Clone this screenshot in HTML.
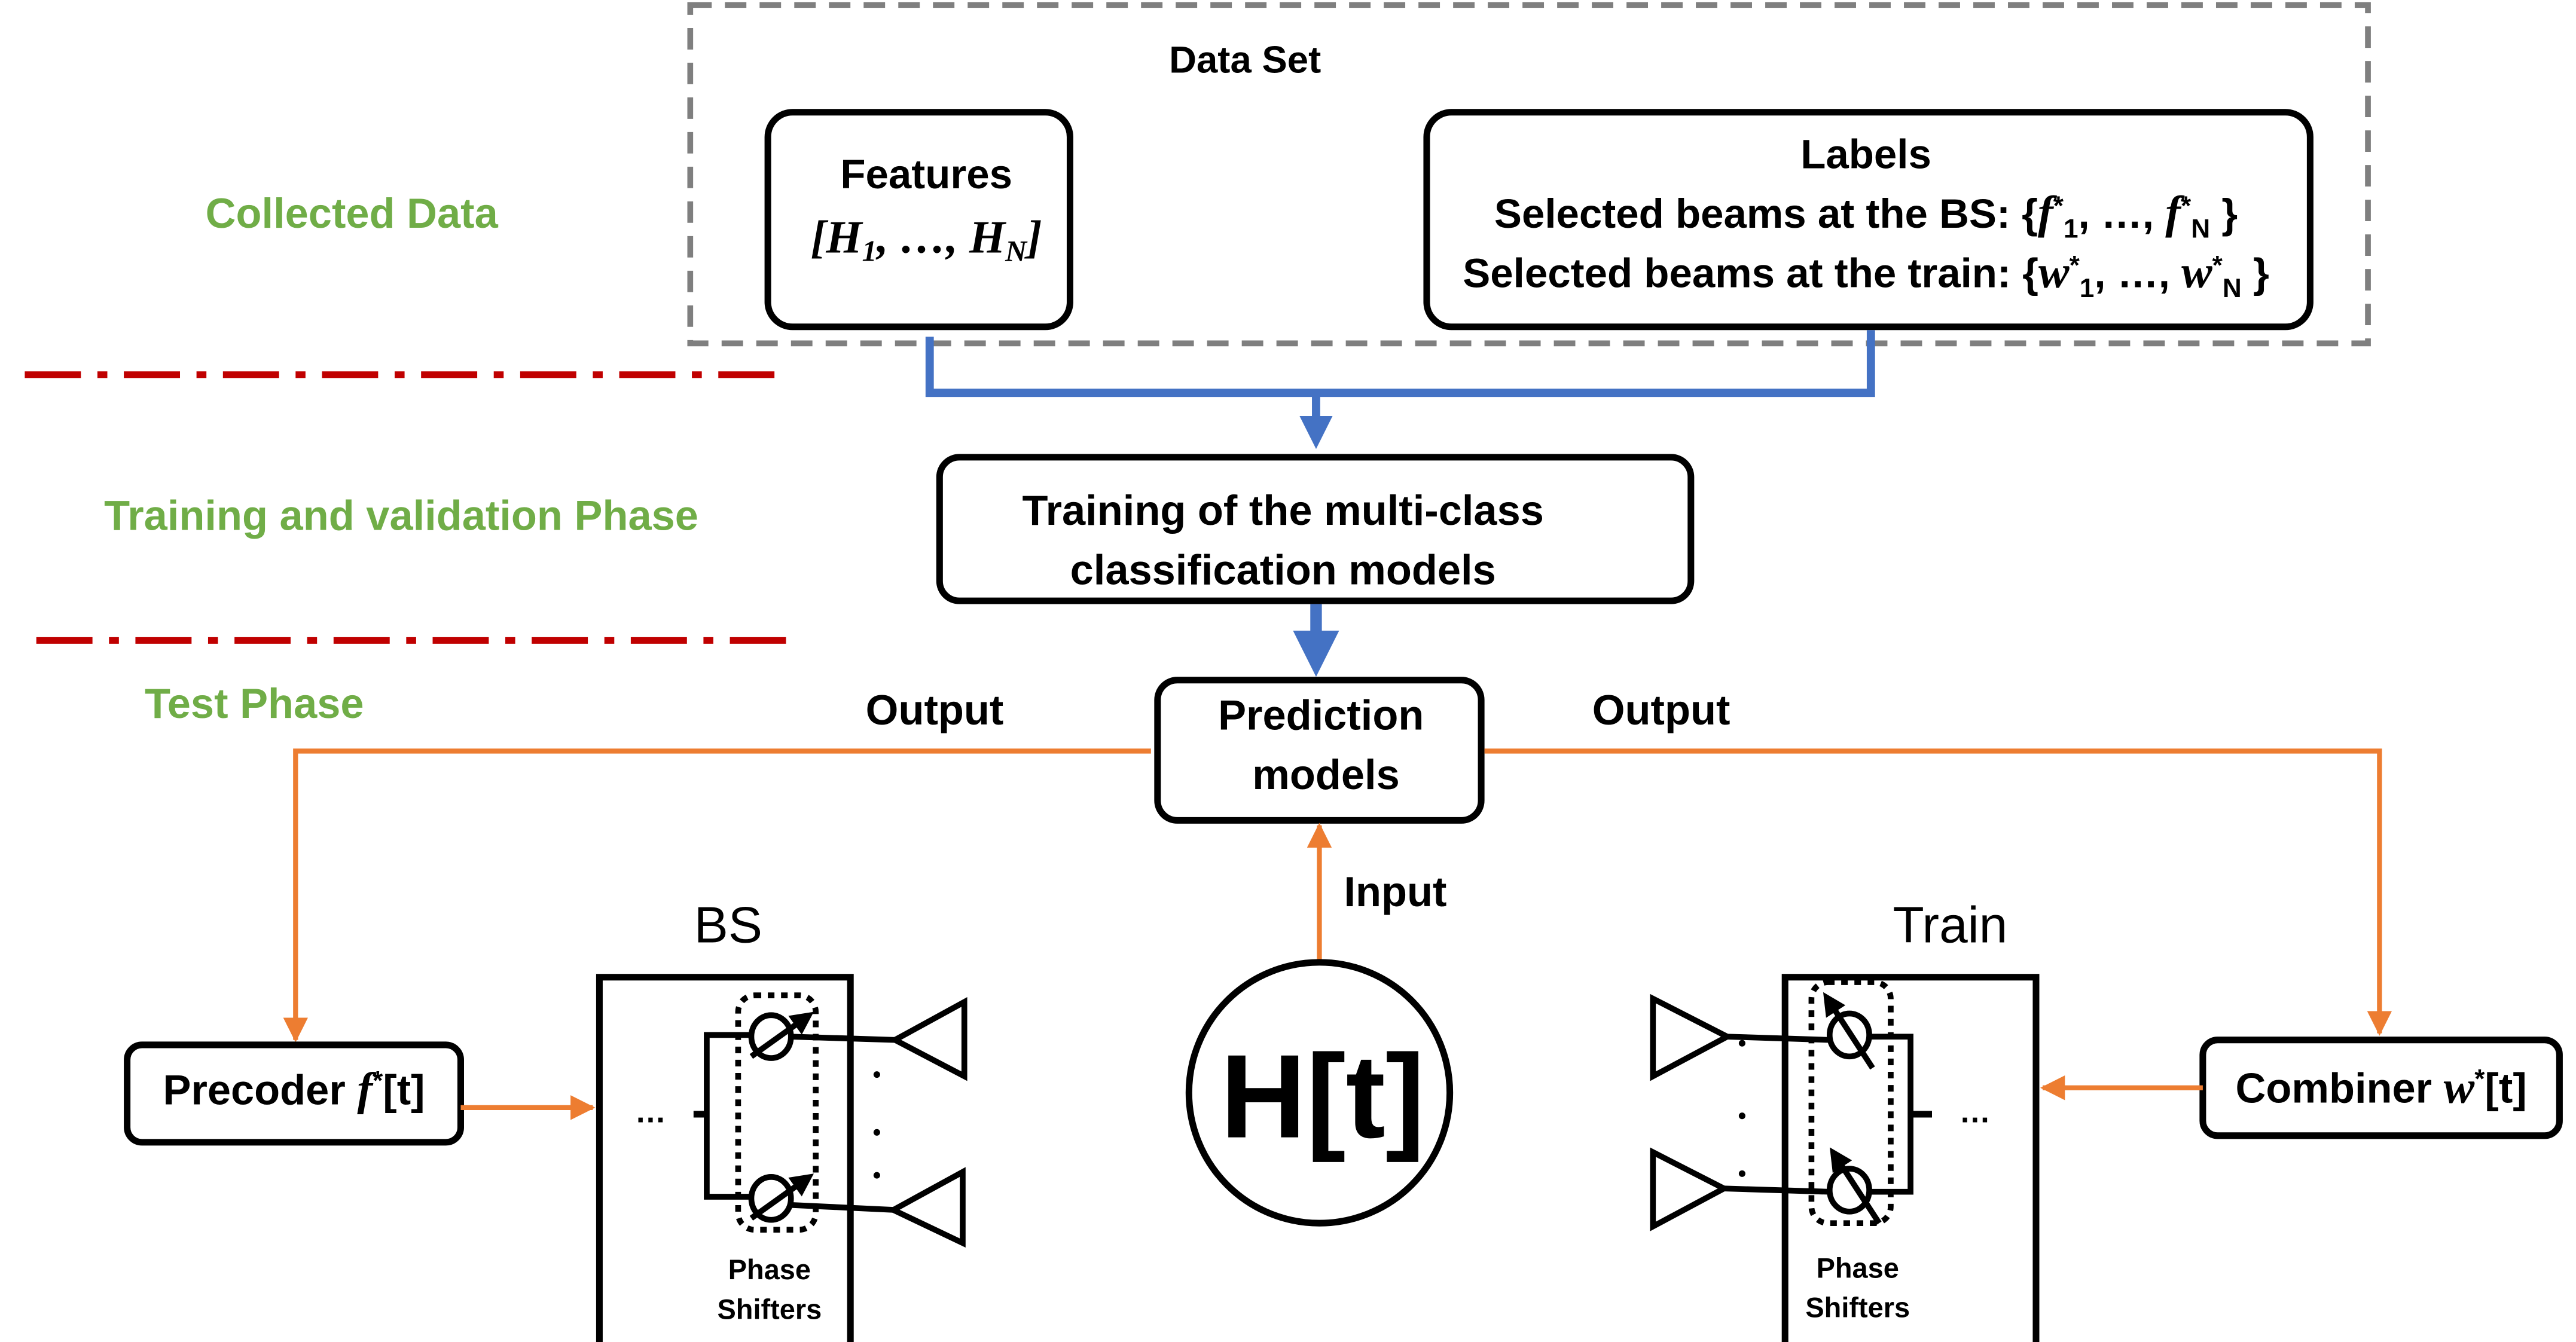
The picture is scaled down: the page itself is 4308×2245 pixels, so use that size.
<!DOCTYPE html>
<html><head><meta charset="utf-8"><style>
html,body{margin:0;padding:0;background:#fff;width:4308px;height:2245px;overflow:hidden}
svg{display:block}
text{font-family:"Liberation Sans",sans-serif;font-weight:bold}
.m{font-family:"Liberation Serif",serif;font-style:italic;font-weight:bold}
</style></head><body>
<svg width="4308" height="2245" viewBox="0 0 1560 813" preserveAspectRatio="none" xmlns="http://www.w3.org/2000/svg">
<defs>
<marker id="ab" markerWidth="4" markerHeight="4" refX="2" refY="2" orient="auto" markerUnits="strokeWidth"><path d="M0,0L4,2L0,4z" fill="#4472c4"/></marker>
<marker id="ao" markerWidth="5" markerHeight="5" refX="4.5" refY="2.5" orient="auto" markerUnits="strokeWidth"><path d="M0,0L5,2.5L0,5z" fill="#ed7d31"/></marker>
<marker id="ak" markerWidth="4" markerHeight="4" refX="3" refY="2" orient="auto" markerUnits="strokeWidth"><path d="M0,0L4,2L0,4z" fill="#000"/></marker>
</defs>
<rect x="418" y="3" width="1016" height="205" fill="none" stroke="#7f7f7f" stroke-width="3.5" stroke-dasharray="13,8"/>
<text x="754" y="44" font-size="23" text-anchor="middle">Data Set</text>
<rect x="465" y="68" width="183" height="130" rx="15" fill="#fff" stroke="#000" stroke-width="4"/>
<text x="561" y="114" font-size="25" text-anchor="middle">Features</text>
<text x="561" y="153" font-size="28" text-anchor="middle" class="m">[H<tspan font-size="18" dy="5">1</tspan><tspan dy="-5">, …, H</tspan><tspan font-size="18" dy="5">N</tspan><tspan dy="-5">]</tspan></text>
<rect x="864" y="68" width="535" height="130" rx="15" fill="#fff" stroke="#000" stroke-width="4"/>
<text x="1130" y="102" font-size="25" text-anchor="middle">Labels</text>
<text x="1130" y="138" font-size="25" text-anchor="middle">Selected beams at the BS: {<tspan class="m" font-size="28">f</tspan><tspan font-size="16" dy="-8">*</tspan><tspan font-size="16" dy="14">1</tspan><tspan dy="-6">, …, </tspan><tspan class="m" font-size="28">f</tspan><tspan font-size="16" dy="-8">*</tspan><tspan font-size="16" dy="14">N</tspan><tspan dy="-6"> }</tspan></text>
<text x="1130" y="174" font-size="25" text-anchor="middle">Selected beams at the train: {<tspan class="m" font-size="28">w</tspan><tspan font-size="16" dy="-8">*</tspan><tspan font-size="16" dy="14">1</tspan><tspan dy="-6">, …, </tspan><tspan class="m" font-size="28">w</tspan><tspan font-size="16" dy="-8">*</tspan><tspan font-size="16" dy="14">N</tspan><tspan dy="-6"> }</tspan></text>
<text x="213" y="138" font-size="25.5" text-anchor="middle" fill="#70ad47">Collected Data</text>
<text x="243" y="321" font-size="25.5" text-anchor="middle" fill="#70ad47">Training and validation Phase</text>
<text x="154" y="435" font-size="25.5" text-anchor="middle" fill="#70ad47">Test Phase</text>
<line x1="15" y1="227" x2="478" y2="227" stroke="#c00000" stroke-width="4" stroke-dasharray="34,10,6,10"/>
<line x1="22" y1="388" x2="483" y2="388" stroke="#c00000" stroke-width="4" stroke-dasharray="34,10,6,10"/>
<polyline points="563,204 563,238 1133,238 1133,200" fill="none" stroke="#4472c4" stroke-width="5"/>
<line x1="797" y1="238" x2="797" y2="262" stroke="#4472c4" stroke-width="5" marker-end="url(#ab)"/>
<rect x="569" y="277" width="455" height="87" rx="12" fill="#fff" stroke="#000" stroke-width="4"/>
<text x="777" y="318" font-size="25.5" text-anchor="middle">Training of the multi-class</text>
<text x="777" y="354" font-size="25.5" text-anchor="middle">classification models</text>
<line x1="797" y1="366" x2="797" y2="396" stroke="#4472c4" stroke-width="7" marker-end="url(#ab)"/>
<rect x="701" y="412" width="196" height="85" rx="12" fill="#fff" stroke="#000" stroke-width="4"/>
<text x="800" y="442" font-size="25.5" text-anchor="middle">Prediction</text>
<text x="803" y="478" font-size="25.5" text-anchor="middle">models</text>
<text x="566" y="439" font-size="25.5" text-anchor="middle">Output</text>
<text x="1006" y="439" font-size="25.5" text-anchor="middle">Output</text>
<polyline points="697,455 179,455 179,630" fill="none" stroke="#ed7d31" stroke-width="3" marker-end="url(#ao)"/>
<polyline points="899,455 1441,455 1441,626" fill="none" stroke="#ed7d31" stroke-width="3" marker-end="url(#ao)"/>
<line x1="799" y1="582" x2="799" y2="500" stroke="#ed7d31" stroke-width="3" marker-end="url(#ao)"/>
<text x="845" y="549" font-size="25.5" text-anchor="middle">Input</text>
<circle cx="799" cy="662" r="79" fill="#fff" stroke="#000" stroke-width="4"/>
<text x="801" y="689" font-size="72" text-anchor="middle">H[t]</text>
<rect x="77" y="633" width="202" height="59" rx="9" fill="#fff" stroke="#000" stroke-width="4"/>
<text x="178" y="669" font-size="25.5" text-anchor="middle">Precoder <tspan class="m" font-size="28">f</tspan><tspan font-size="16" dy="-9">*</tspan><tspan dy="9">[t]</tspan></text>
<line x1="279" y1="671" x2="359" y2="671" stroke="#ed7d31" stroke-width="3" marker-end="url(#ao)"/>
<rect x="1334" y="630" width="216" height="58" rx="9" fill="#fff" stroke="#000" stroke-width="4"/>
<text x="1442" y="668" font-size="25.5" text-anchor="middle">Combiner <tspan class="m" font-size="28">w</tspan><tspan font-size="16" dy="-9">*</tspan><tspan dy="9">[t]</tspan></text>
<line x1="1334" y1="659" x2="1237" y2="659" stroke="#ed7d31" stroke-width="3" marker-end="url(#ao)"/>
<text x="441" y="571" font-size="31" text-anchor="middle" style="font-weight:normal">BS</text>
<rect x="363" y="592" width="152" height="225" fill="none" stroke="#000" stroke-width="4"/>
<text x="394" y="680" font-size="19" text-anchor="middle">…</text>
<line x1="420" y1="675" x2="428" y2="675" stroke="#000" stroke-width="4"/>
<polyline points="455,627 428,627 428,725 455,725" fill="none" stroke="#000" stroke-width="3.5"/>
<rect x="447" y="603" width="47" height="142" rx="10" fill="none" stroke="#000" stroke-width="3.5" stroke-dasharray="4,4"/>
<ellipse cx="467" cy="628" rx="12" ry="13" fill="#fff" stroke="#000" stroke-width="3.5"/>
<ellipse cx="467" cy="726" rx="12" ry="13" fill="#fff" stroke="#000" stroke-width="3.5"/>
<line x1="455" y1="640" x2="490" y2="615" stroke="#000" stroke-width="3.5" marker-end="url(#ak)"/>
<line x1="455" y1="738" x2="490" y2="713" stroke="#000" stroke-width="3.5" marker-end="url(#ak)"/>
<line x1="479" y1="628" x2="542" y2="630" stroke="#000" stroke-width="3.5"/>
<line x1="479" y1="730" x2="542" y2="733" stroke="#000" stroke-width="3.5"/>
<polygon points="542,630 584,607 584,652" fill="none" stroke="#000" stroke-width="3.5"/>
<polygon points="541,733 583,710 583,753" fill="none" stroke="#000" stroke-width="3.5"/>
<circle cx="531" cy="651" r="2"/><circle cx="531" cy="686" r="2"/><circle cx="531" cy="712" r="2"/>
<text x="466" y="775" font-size="17" text-anchor="middle">Phase</text>
<text x="466" y="799" font-size="17" text-anchor="middle">Shifters</text>
<text x="1181" y="571" font-size="31" text-anchor="middle" style="font-weight:normal">Train</text>
<rect x="1081" y="592" width="152" height="225" fill="none" stroke="#000" stroke-width="4"/>
<text x="1196" y="680" font-size="19" text-anchor="middle">…</text>
<line x1="1157" y1="675" x2="1170" y2="675" stroke="#000" stroke-width="4"/>
<polyline points="1130,628 1157,628 1157,722 1130,722" fill="none" stroke="#000" stroke-width="3.5"/>
<rect x="1097" y="595" width="48" height="146" rx="10" fill="none" stroke="#000" stroke-width="3.5" stroke-dasharray="4,4"/>
<ellipse cx="1120" cy="627" rx="12" ry="13" fill="#fff" stroke="#000" stroke-width="3.5"/>
<ellipse cx="1120" cy="721" rx="12" ry="13" fill="#fff" stroke="#000" stroke-width="3.5"/>
<line x1="1134" y1="647" x2="1106" y2="604" stroke="#000" stroke-width="3.5" marker-end="url(#ak)"/>
<line x1="1138" y1="741" x2="1110" y2="698" stroke="#000" stroke-width="3.5" marker-end="url(#ak)"/>
<line x1="1046" y1="628" x2="1108" y2="630" stroke="#000" stroke-width="3.5"/>
<line x1="1044" y1="720" x2="1108" y2="722" stroke="#000" stroke-width="3.5"/>
<polygon points="1046,628 1001,605 1001,652" fill="none" stroke="#000" stroke-width="3.5"/>
<polygon points="1044,720 1001,698 1001,743" fill="none" stroke="#000" stroke-width="3.5"/>
<circle cx="1055" cy="632" r="2"/><circle cx="1055" cy="676" r="2"/><circle cx="1055" cy="711" r="2"/>
<text x="1125" y="774" font-size="17" text-anchor="middle">Phase</text>
<text x="1125" y="798" font-size="17" text-anchor="middle">Shifters</text>
</svg>
</body></html>
